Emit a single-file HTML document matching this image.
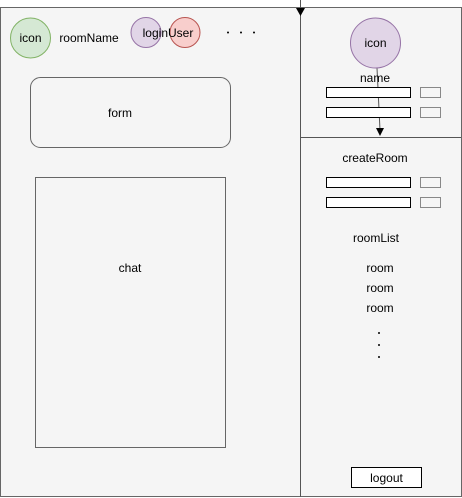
<!DOCTYPE html>
<html><head><meta charset="utf-8"><style>
html,body{margin:0;padding:0;background:#fff;}
svg{display:block;font-family:"Liberation Sans",Helvetica,sans-serif;font-size:12px;}
</style></head><body>
<svg width="462" height="498" viewBox="0 0 462 498">
<rect x="0.5" y="7.5" width="461" height="489" fill="#f5f5f5" stroke="#666"/>
<line x1="300.5" y1="0" x2="300.5" y2="497" stroke="#555"/>
<polygon points="296,8 305,8 300.5,16" fill="#000"/>
<line x1="300" y1="137.5" x2="461" y2="137.5" stroke="#555"/>

<g>
<circle cx="30.5" cy="38" r="20" fill="#d5e8d4" stroke="#82b366"/>
<text x="30.5" y="42" text-anchor="middle">icon</text></g>
<text x="89" y="42" text-anchor="middle">roomName</text>
<circle cx="146" cy="32.5" r="15" fill="#e1d5e7" stroke="#9673a6"/>
<circle cx="185" cy="32.5" r="15" fill="#f8cecc" stroke="#b85450"/>
<text x="168" y="37" text-anchor="middle">loginUser</text>
<g fill="#000">
<circle cx="228" cy="32.5" r="1"/><circle cx="241" cy="32.5" r="1"/><circle cx="254" cy="32.5" r="1"/></g>

<g>
<rect x="30.5" y="77.5" width="200" height="70" rx="10" fill="none" stroke="#666"/>
<text x="120" y="117" text-anchor="middle">form</text></g>
<g>
<rect x="35.5" y="177.5" width="190" height="270" fill="none" stroke="#666"/>
<text x="130" y="272" text-anchor="middle">chat</text></g>

<line x1="377" y1="68" x2="380" y2="130" stroke="#555"/>
<polygon points="376,128 384,128 380,136" fill="#000"/>
<g>
<circle cx="375.5" cy="43" r="25" fill="#e1d5e7" stroke="#9673a6"/>
<text x="375.5" y="47" text-anchor="middle">icon</text></g>
<text x="375" y="82" text-anchor="middle">name</text>
<rect x="326.5" y="87.5" width="84" height="10" fill="#fff" stroke="#000"/>
<rect x="420.5" y="87.5" width="20" height="10" fill="#f5f5f5" stroke="#888"/>
<rect x="326.5" y="107.5" width="84" height="10" fill="#fff" stroke="#000"/>
<rect x="420.5" y="107.5" width="20" height="10" fill="#f5f5f5" stroke="#888"/>

<text x="375" y="162" text-anchor="middle">createRoom</text>
<rect x="326.5" y="177.5" width="84" height="10" fill="#fff" stroke="#000"/>
<rect x="420.5" y="177.5" width="20" height="10" fill="#f5f5f5" stroke="#888"/>
<rect x="326.5" y="197.5" width="84" height="10" fill="#fff" stroke="#000"/>
<rect x="420.5" y="197.5" width="20" height="10" fill="#f5f5f5" stroke="#888"/>

<text x="376" y="242" text-anchor="middle">roomList</text>
<text x="380" y="272" text-anchor="middle">room</text>
<text x="380" y="292" text-anchor="middle">room</text>
<text x="380" y="312" text-anchor="middle">room</text>
<g fill="#000">
<circle cx="379" cy="333" r="1"/><circle cx="379" cy="345" r="1"/><circle cx="379" cy="357" r="1"/></g>

<g>
<rect x="351.5" y="467.5" width="70" height="20" fill="#fff" stroke="#000"/>
<text x="386.5" y="482" text-anchor="middle">logout</text></g>
</svg>
</body></html>
